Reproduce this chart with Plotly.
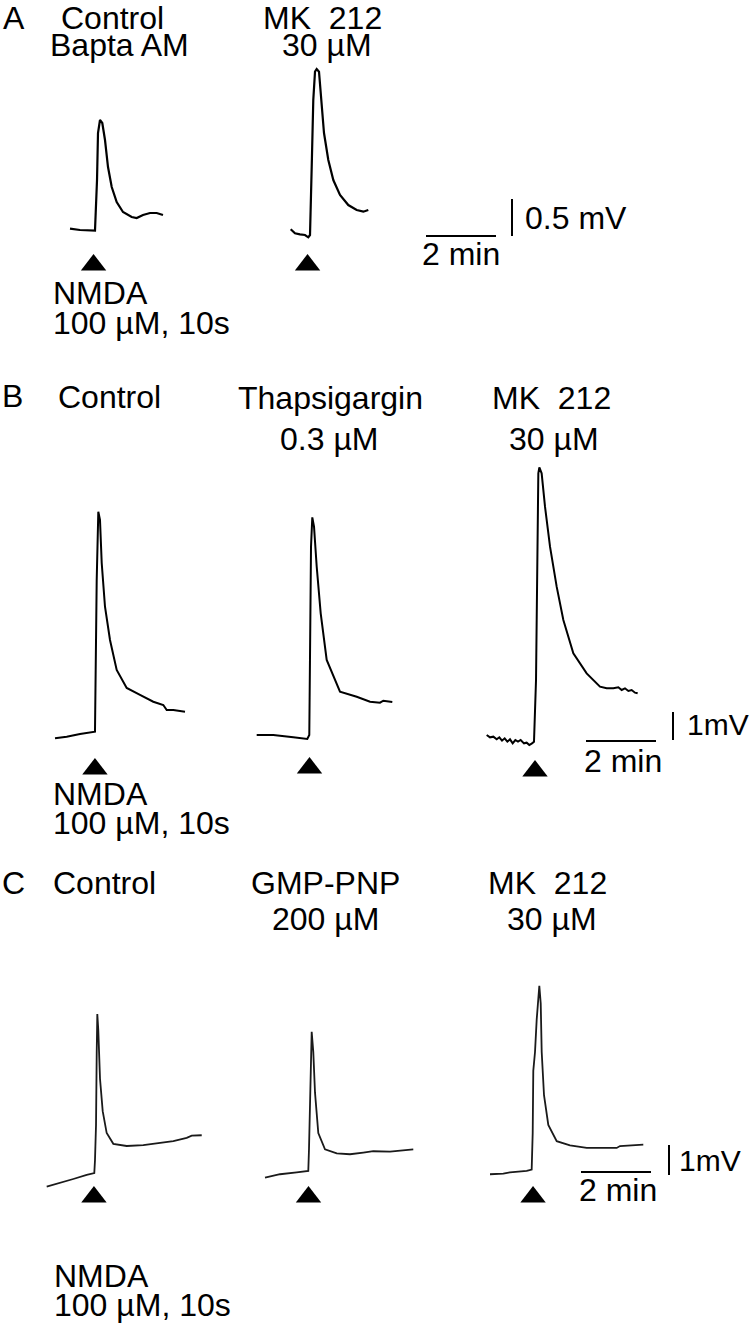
import plotly.graph_objects as go

W, H = 750, 1334

# ---------------- data (time in min rel. to response onset, voltage in mV rel. to baseline)
a_ctrl_t = [-0.743, -0.457, -0.029, 0.029, 0.057, 0.114, 0.18, 0.257, 0.343, 0.449, 0.591, 0.771, 1.02, 1.163, 1.343, 1.543, 1.734, 1.914]
a_ctrl_v = [0.018, 0.0, -0.007, 0.676, 1.31, 1.486, 1.446, 1.216, 0.851, 0.581, 0.378, 0.243, 0.176, 0.162, 0.203, 0.23, 0.23, 0.203]

a_mk_t = [-0.551, -0.429, -0.286, -0.143, -0.049, 0.0, 0.049, 0.094, 0.143, 0.191, 0.257, 0.314, 0.4, 0.523, 0.666, 0.857, 1.094, 1.334, 1.523, 1.666]
a_mk_v = [0.077, 0.023, 0.009, 0.0, -0.031, 0.0, 0.923, 1.824, 2.207, 2.243, 2.207, 1.824, 1.378, 1.014, 0.743, 0.541, 0.405, 0.338, 0.315, 0.338]

b_ctrl_t = [-1.171, -0.837, -0.457, -0.029, 0.02, 0.049, 0.066, 0.114, 0.163, 0.257, 0.4, 0.591, 0.877, 1.257, 1.637, 1.923, 2.02, 2.209, 2.543]
b_ctrl_v = [-0.236, -0.179, -0.082, 0.0, 5.418, 7.811, 7.857, 7.561, 6.025, 4.464, 3.275, 2.204, 1.561, 1.311, 1.071, 0.954, 0.775, 0.775, 0.714]

b_thap_t = [-1.509, -1.034, -0.463, -0.063, -0.006, 0.014, 0.043, 0.08, 0.129, 0.206, 0.32, 0.491, 0.871, 1.349, 1.729, 2.014, 2.109, 2.366]
b_thap_v = [0.071, 0.071, -0.011, -0.071, 0.071, 3.225, 6.796, 7.846, 7.511, 6.082, 4.418, 2.75, 1.618, 1.439, 1.261, 1.225, 1.296, 1.25]

b_mk_t = [-1.381, -1.286, -1.19, -1.095, -1.019, -0.943, -0.867, -0.79, -0.714, -0.638, -0.562, -0.486, -0.41, -0.314, -0.238, -0.162, -0.086, -0.029,
          0.029, 0.067, 0.095, 0.124, 0.19, 0.286, 0.429, 0.619, 0.81, 1.095, 1.476, 1.857,
          2.048, 2.238, 2.381, 2.476, 2.571, 2.667, 2.762, 2.857, 2.933]
b_mk_v = [0.25, 0.167, 0.19, 0.095, 0.167, 0.048, 0.131, 0.012, 0.095, -0.048, 0.071, 0.012, 0.071, -0.048, -0.024, -0.107, -0.048, 0.012,
          2.214, 6.976, 9.595, 9.81, 9.595, 8.405, 6.976, 5.548, 4.357, 3.167, 2.452, 1.976,
          1.917, 1.917, 1.952, 1.857, 1.917, 1.821, 1.857, 1.762, 1.738]

c_ctrl_t = [-1.38, -1.0, -0.62, -0.237, -0.02, 0.0, 0.029, 0.049, 0.066, 0.094, 0.143, 0.22, 0.334, 0.523, 0.906, 1.38, 1.857, 2.237, 2.62, 2.763, 3.049]
c_ctrl_v = [-0.451, -0.335, -0.2, -0.065, 0.0, 0.432, 1.603, 4.035, 5.297, 4.765, 3.143, 2.062, 1.332, 0.973, 0.9, 0.927, 0.989, 1.062, 1.17, 1.243, 1.259]

c_gmp_t = [-1.243, -0.814, -0.337, -0.006, 0.014, 0.043, 0.071, 0.091, 0.137, 0.186, 0.28, 0.471, 0.806, 1.186, 1.566, 1.851, 2.329, 2.994]
c_gmp_v = [-0.224, -0.108, -0.043, 0.0, 0.722, 2.611, 3.965, 4.641, 3.965, 2.611, 1.262, 0.722, 0.586, 0.559, 0.614, 0.659, 0.649, 0.722]

c_mk_t = [-1.2, -0.82, -0.629, -0.151, -0.009, 0.02, 0.037, 0.086, 0.134, 0.191, 0.209, 0.249, 0.277, 0.343, 0.466, 0.706, 1.086, 1.563, 2.42, 2.514, 3.18]
c_mk_v = [-0.141, -0.122, -0.076, -0.032, 0.014, 1.23, 3.303, 3.932, 5.014, 5.914, 6.141, 5.554, 3.932, 2.492, 1.5, 0.959, 0.824, 0.735, 0.735, 0.797, 0.843]

nmda_t = [-0.07, -0.07, -0.03, 0.0, 0.0, -0.03, 0.0, 0.03]   # NMDA application marks (min)

scale_time_min = 2
scale_mv = {"A": 0.5, "B": 1, "C": 1}
scale_mv_labels = {"A": "0.5 mV", "B": "1mV", "C": "1mV"}

# ---------------- layout / placement (pixels)
panel_scale = {"A": (35, 74), "B": (35, 28), "C": (35, 30)}   # px per min, px per mV
traces = [
    # panel, t, v, onset_px, baseline_px, line width, color
    ("A", a_ctrl_t, a_ctrl_v, 96, 230, 2.2, "#000000"),
    ("A", a_mk_t, a_mk_v, 310, 235, 2.2, "#000000"),
    ("B", b_ctrl_t, b_ctrl_v, 96, 731.7, 2.0, "#000000"),
    ("B", b_thap_t, b_thap_v, 309.5, 737, 2.0, "#000000"),
    ("B", b_mk_t, b_mk_v, 535, 742, 2.0, "#000000"),
    ("C", c_ctrl_t, c_ctrl_v, 95, 1173, 1.8, "#1a1a1a"),
    ("C", c_gmp_t, c_gmp_v, 308.5, 1171, 1.8, "#1a1a1a"),
    ("C", c_mk_t, c_mk_v, 532, 1170, 1.8, "#1a1a1a"),
]
triangle_top_px = [254, 254, 758, 757, 760, 1186, 1186, 1186]

fig = go.Figure()
layout_axes = {}
for i, (panel, t, v, ox, by, lw, col) in enumerate(traces):
    sx, sy = panel_scale[panel]
    n = i + 1
    xa = "x" if n == 1 else f"x{n}"
    ya = "y" if n == 1 else f"y{n}"
    xr = [-ox / sx, (W - ox) / sx]
    yr = [(by - H) / sy, by / sy]
    ax_common = dict(visible=False, showgrid=False, zeroline=False, fixedrange=True)
    layout_axes["xaxis" if n == 1 else f"xaxis{n}"] = dict(domain=[0, 1], range=xr, anchor=ya, **ax_common)
    layout_axes["yaxis" if n == 1 else f"yaxis{n}"] = dict(domain=[0, 1], range=yr, anchor=xa, **ax_common)
    fig.add_trace(go.Scatter(x=t, y=v, mode="lines", xaxis=xa, yaxis=ya,
                             line=dict(color=col, width=lw), hoverinfo="skip", showlegend=False))
    # NMDA triangle
    size = 22
    tri_y = (by - (triangle_top_px[i] + size / 2)) / sy
    fig.add_trace(go.Scatter(x=[nmda_t[i]], y=[tri_y], mode="markers", xaxis=xa, yaxis=ya,
                             marker=dict(symbol="triangle-up", size=size, color="black", line=dict(width=0)),
                             hoverinfo="skip", showlegend=False))

# scale bars: drawn in last trace axis of each panel
bars = {
    # panel: (trace index, hbar x0 px, hbar y px, vbar x px, vbar bottom px)
    "A": (1, 426, 236, 512, 236),
    "B": (4, 586, 741, 673, 740),
    "C": (7, 581, 1172, 669, 1175),
}
for panel, (ti, hx0, hy, vx, vyb) in bars.items():
    _, _, _, ox, by, _, _ = traces[ti]
    sx, sy = panel_scale[panel]
    n = ti + 1
    xa = "x" if n == 1 else f"x{n}"
    ya = "y" if n == 1 else f"y{n}"
    t0 = (hx0 - ox) / sx
    v0 = (by - hy) / sy
    fig.add_trace(go.Scatter(x=[t0, t0 + scale_time_min], y=[v0, v0], mode="lines", xaxis=xa, yaxis=ya,
                             line=dict(color="black", width=2), hoverinfo="skip", showlegend=False))
    t1 = (vx - ox) / sx
    v1 = (by - vyb) / sy
    fig.add_trace(go.Scatter(x=[t1, t1], y=[v1, v1 + scale_mv[panel]], mode="lines", xaxis=xa, yaxis=ya,
                             line=dict(color="black", width=2), hoverinfo="skip", showlegend=False))

FONT = "Liberation Sans, Arial, Helvetica, sans-serif"
FS = 32


def txt(s, x_px, y_px, anchor="center", size=FS):
    fig.add_annotation(text=s, x=x_px / W, y=1 - y_px / H, xref="paper", yref="paper",
                       xanchor=anchor, yanchor="middle", showarrow=False,
                       font=dict(family=FONT, size=size, color="black"))


MK = "MK\u00a0\u00a0212"
# panel A
txt("A", 1, 18, "left", 32)
txt("Control", 112.5, 18)
txt("Bapta AM", 119.5, 45)
txt(MK, 322.5, 18)
txt("30 µM", 326.5, 45)
txt("NMDA", 51, 292.5, "left")
txt("100 µM, 10s", 51, 322.5, "left")
txt(scale_mv_labels["A"], 523, 218, "left")
txt(f"{scale_time_min} min", 461, 254)
# panel B
txt("B", 0, 396, "left", 32)
txt("Control", 109, 397)
txt("Thapsigargin", 330, 398)
txt("0.3 µM", 328.5, 439)
txt(MK, 551.5, 398)
txt("30 µM", 554, 439)
txt("NMDA", 51, 794, "left")
txt("100 µM, 10s", 51, 823, "left")
txt(scale_mv_labels["B"], 685, 724, "left", 30)
txt(f"{scale_time_min} min", 623, 761)
# panel C
txt("C", 0, 883, "left", 32)
txt("Control", 104, 883)
txt("GMP-PNP", 325, 883)
txt("200 µM", 325, 919)
txt(MK, 547.5, 883)
txt("30 µM", 552, 919)
txt("NMDA", 52, 1276, "left")
txt("100 µM, 10s", 52, 1305, "left")
txt(scale_mv_labels["C"], 677, 1160, "left", 30)
txt(f"{scale_time_min} min", 618, 1190)

fig.update_layout(width=W, height=H, margin=dict(l=0, r=0, t=0, b=0),
                  paper_bgcolor="white", plot_bgcolor="rgba(0,0,0,0)",
                  showlegend=False, **layout_axes)

fig.write_html("out.html", config={"displayModeBar": False, "staticPlot": True},
               post_script="document.body.style.margin='0px';document.body.style.overflow='hidden';")
